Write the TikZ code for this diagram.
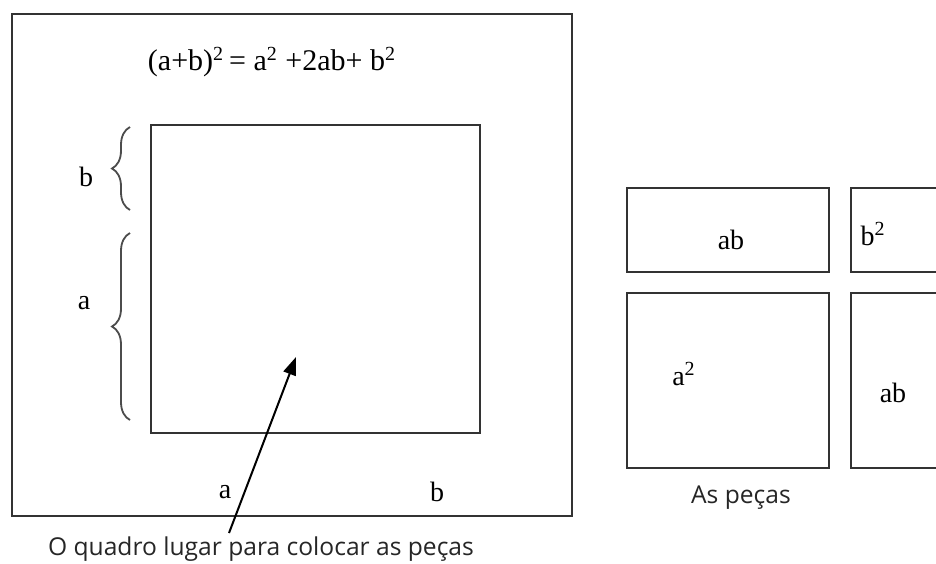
\documentclass[tikz,border=0pt]{standalone}
\usepackage{fontspec}
\setmainfont{Liberation Serif}
\newfontfamily\capfont{Open Sans}
\usetikzlibrary{arrows.meta,decorations.pathreplacing,positioning}
\newcommand\sqtwo{\textsuperscript{\fontsize{10}{10}\selectfont 2}}
\tikzset{
  piece/.style={draw=black!80, line width=1.4pt},
  side/.style={decorate, decoration={brace, amplitude=9pt, aspect=0.5}, draw=black!70, line width=0.9pt},
  lbl/.style={font=\fontsize{14}{16}\selectfont, inner sep=0pt},
  eqn/.style={font=\fontsize{15}{17}\selectfont, inner sep=0pt},
  note/.style={font=\capfont\fontsize{12.3}{14}\selectfont, text=black!85, inner sep=0pt},
  arrow/.style={-{Triangle[length=9pt,width=6.5pt]}, line width=1pt}
}

\begin{document}
\begin{tikzpicture}[x=0.5pt, y=-0.5pt]
  \useasboundingbox[fill=white] (0,0) rectangle (936,563);

  % the board
  \draw[piece] (12,14) rectangle (572,516);
  \node[eqn] (eq) at (272,62) {(a+b)\sqtwo\,= a\sqtwo\ +2ab+ b\sqtwo};
  \draw[piece] (151,125) rectangle (480,433);

  % sides
  \draw[side] (130,210) -- (130,127);
  \draw[side] (130,420) -- (130,233);
  \node[lbl] (sb) at (86,177) {b};
  \node[lbl] (sa) at (84,303) {a};
  \node[lbl] (ba) at (225,492) {a};
  \node[lbl] (bb) at (437,492) {b};

  % caption and arrow
  \node[note] (cap) at (261,549) {O quadro lugar para colocar as peças};
  \coordinate (src) at (229,533);
  \coordinate (tip) at (296,357);
  \draw[arrow] (src) -- (tip);

  % the pieces
  \draw[piece] (627,188) rectangle (829,272);
  \draw[piece] (851,188) rectangle (950,272);
  \draw[piece] (627,293) rectangle (829,468);
  \draw[piece] (851,293) rectangle (950,468);
  \node[lbl] (p1) at (731,240) {ab};
  \node[lbl] (p2) at (873,234) {b\sqtwo};
  \node[lbl] (p3) at (684,374) {a\sqtwo};
  \node[lbl] (p4) at (893,393) {ab};
  \node[note] (pcs) at (741,498) {As peças};
\end{tikzpicture}
\end{document}
